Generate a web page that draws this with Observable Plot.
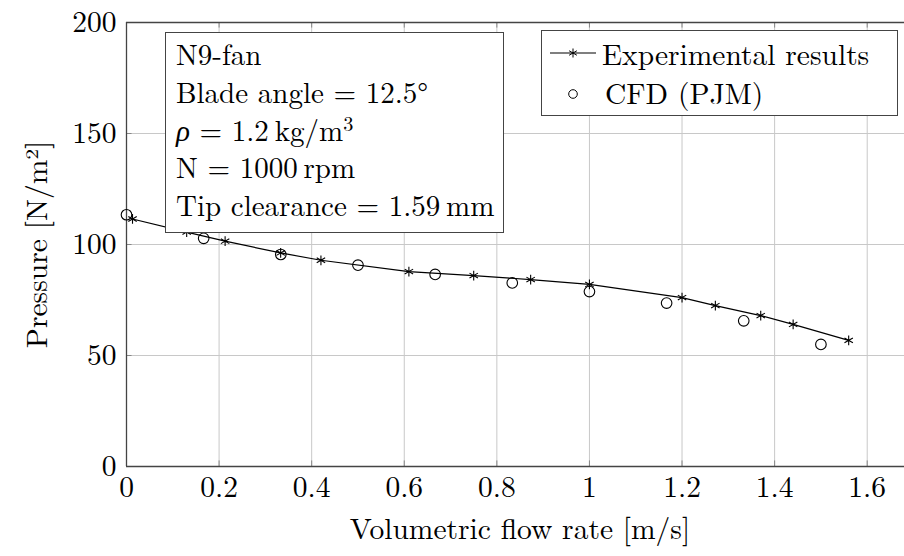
<!DOCTYPE html>
<html><head><meta charset="utf-8">
<script src="https://cdn.jsdelivr.net/npm/d3@7"></script>
<script src="https://cdn.jsdelivr.net/npm/@observablehq/plot@0.6"></script>
<style>
body{margin:0;background:#fff;}
#wrap{position:relative;width:904px;height:556px;overflow:hidden;color:#000;}
.box{position:absolute;background:#fff;border:1.3px solid #444;box-sizing:border-box;}
.info div{position:absolute;left:10px;font-size:29px;line-height:1;white-space:nowrap;}
.leg div{position:absolute;font-size:29.5px;line-height:1;white-space:nowrap;}
sup{font-size:0.7em;vertical-align:0.5em;line-height:0;}
</style></head><body><div id="wrap"></div>
<script>
// Experimental results (line + asterisk markers)
const expX = [0.013, 0.13, 0.213, 0.333, 0.42, 0.61, 0.75, 0.873, 1.0, 1.2, 1.272, 1.37, 1.44, 1.56];
const expY = [111.5, 105.6, 101.5, 96.2, 92.9, 87.8, 86.0, 84.2, 82.0, 76.1, 72.5, 68.0, 64.0, 56.8];
// CFD (PJM) circles
const cfdX = [0, 0.1667, 0.3333, 0.5, 0.6667, 0.8333, 1.0, 1.1667, 1.3333, 1.5];
const cfdY = [113.4, 102.8, 95.5, 90.7, 86.5, 82.7, 78.8, 73.6, 65.6, 55.0];
const xTicks = [0, 0.2, 0.4, 0.6, 0.8, 1, 1.2, 1.4, 1.6];
const yTicks = [0, 50, 100, 150, 200];
const seriesNames = ["Experimental results", "CFD (PJM)"];
const infoLines = ["N9-fan", "Blade angle = 12.5°", "<i>ρ</i> = 1.2&#8201;kg/m<sup>3</sup>", "N = 1000&#8201;rpm", "Tip clearance = 1.59&#8201;mm"];

const exp = expX.map((x, i) => ({x, y: expY[i]}));
const cfd = cfdX.map((x, i) => ({x, y: cfdY[i]}));
const font = "Latin Modern Roman";
const fontStack = "'Latin Modern Roman', 'Liberation Serif', serif";

const wrap = document.getElementById("wrap");
wrap.style.fontFamily = fontStack;

const chart = Plot.plot({
  width: 920, height: 556,
  marginLeft: 126, marginRight: 7, marginTop: 22, marginBottom: 90,
  style: {background: "white", color: "black", maxWidth: "none"},
  x: {domain: [0, 1.7]},
  y: {domain: [0, 200]},
  marks: [
    Plot.gridX(xTicks.filter(d => d > 0), {stroke: "#c8c8c8", strokeOpacity: 1, strokeWidth: 1}),
    Plot.gridY(yTicks.filter(d => d > 0 && d < 200), {stroke: "#c8c8c8", strokeOpacity: 1, strokeWidth: 1}),
    Plot.ruleX(xTicks.filter(d => d > 0), {y1: 0, y2: 2.5, stroke: "#888"}),
    Plot.ruleX(xTicks.filter(d => d > 0), {y1: 197.5, y2: 200, stroke: "#888"}),
    Plot.ruleY(yTicks.filter(d => d > 0 && d < 200), {x1: 0, x2: 0.012, stroke: "#888"}),
    Plot.ruleY([0, 200], {stroke: "#444", strokeWidth: 1.3}),
    Plot.ruleX([0, 1.7], {stroke: "#444", strokeWidth: 1.3}),
    Plot.axisX(xTicks, {tickSize: 0, tickPadding: 10, fontSize: 29.5, fontFamily: font, tickFormat: d => String(d),
      label: "Volumetric flow rate [m/s]", labelAnchor: "center", labelArrow: "none", labelOffset: 72}),
    Plot.axisY(yTicks, {tickSize: 0, tickPadding: 10, fontSize: 29.5, fontFamily: font, tickFormat: d => String(d),
      label: "Pressure [N/m²]", labelAnchor: "center", labelArrow: "none", labelOffset: 100}),
    Plot.line(exp, {x: "x", y: "y", stroke: "black", strokeWidth: 1.2}),
    Plot.dot(exp, {x: "x", y: "y", symbol: "asterisk", r: 4.6, stroke: "black", strokeWidth: 1.1}),
    Plot.dot(cfd, {x: "x", y: "y", symbol: "circle", r: 5.3, stroke: "black", fill: "white", fillOpacity: 0, strokeWidth: 1.1})
  ]
});
chart.style.position = "absolute";
chart.style.left = "0px";
chart.style.top = "0px";
chart.style.maxWidth = "none";
chart.style.fontFamily = fontStack;
chart.querySelectorAll("text").forEach(t => { t.style.fontFamily = fontStack; t.setAttribute("font-size", 29.5); });
wrap.appendChild(chart);

// info box
const info = document.createElement("div");
info.className = "box info";
Object.assign(info.style, {left: "165px", top: "32px", width: "339px", height: "201px"});
infoLines.forEach((s, i) => {
  const d = document.createElement("div");
  d.innerHTML = s;
  d.style.top = (5 + i * 37.8) + "px";
  info.appendChild(d);
});
wrap.appendChild(info);

// legend
const leg = document.createElement("div");
leg.className = "box leg";
Object.assign(leg.style, {left: "541px", top: "30px", width: "357px", height: "86px"});
const icon = d3.create("svg").attr("width", 60).attr("height", 84)
  .style("position", "absolute").style("left", "0px").style("top", "0px");
icon.append("line").attr("x1", 8).attr("x2", 54).attr("y1", 22).attr("y2", 22).attr("stroke", "black").attr("stroke-width", 1.2);
[[0,1],[0.866,0.5],[0.866,-0.5]].forEach(([a,b]) => icon.append("line")
  .attr("x1", 31 - a*4.5).attr("y1", 22 - b*4.5).attr("x2", 31 + a*4.5).attr("y2", 22 + b*4.5)
  .attr("stroke", "black").attr("stroke-width", 1));
icon.append("circle").attr("cx", 31).attr("cy", 63).attr("r", 4.3).attr("fill", "none").attr("stroke", "black").attr("stroke-width", 1);
leg.appendChild(icon.node());
seriesNames.forEach((s, i) => {
  const d = document.createElement("div");
  d.textContent = s;
  d.style.left = (i === 0 ? 60 : 63) + "px";
  d.style.top = (8 + i * 39) + "px";
  leg.appendChild(d);
});
wrap.appendChild(leg);
</script></body></html>
